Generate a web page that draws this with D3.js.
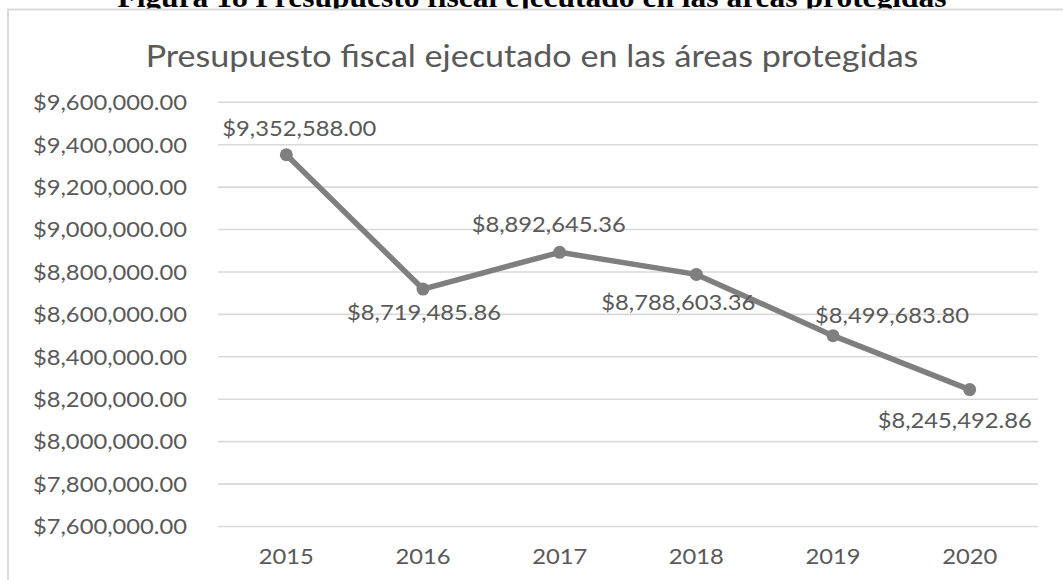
<!DOCTYPE html>
<html><head><meta charset="utf-8">
<script src="https://cdn.jsdelivr.net/npm/d3@7"></script>
<style>body{margin:0;background:#fff;overflow:hidden} svg{display:block}</style>
</head><body><svg id="c" width="1063" height="580"></svg>
<script>
const years = ["2015", "2016", "2017", "2018", "2019", "2020"];
const values = [9352588.00, 8719485.86, 8892645.36, 8788603.36, 8499683.80, 8245492.86];
const yTicks = [7600000, 7800000, 8000000, 8200000, 8400000, 8600000, 8800000, 9000000, 9200000, 9400000, 9600000];
const caption = "Figura 18 Presupuesto fiscal ejecutado en las áreas protegidas";
const title = "Presupuesto fiscal ejecutado en las áreas protegidas";

// layout (label placement relative to each point, as dragged in the original)
const labelOffsets = [[13, -19], [1, 31], [-11, -20], [-18, 36], [59, -13], [-15, 38]];

const svg = d3.select("#c");
const W = 1063, H = 580;
const plot = {left: 218, right: 1038, top: 102.3, bottom: 526.5};
const fmt = d3.format("$,.2f");
const textColor = "#595959";
const SX = 1.08;

const x = d3.scalePoint().domain(years).range([plot.left, plot.right]).padding(0.5);
const y = d3.scaleLinear().domain([d3.min(yTicks), d3.max(yTicks)]).range([plot.bottom, plot.top]);

function sText(g, str, px, py, anchor, sx) {
  return g.append("text").attr("text-anchor", anchor)
    .attr("transform", `translate(${px},${py}) scale(${sx},1)`).text(str);
}

// caption (cut off at top edge, as in the source page)
sText(svg, caption, 532, 6.5, "middle", 1.05)
  .attr("font-family", "Liberation Serif").attr("font-weight", "bold").attr("font-size", 30).attr("fill", "#000");

// chart frame
svg.append("rect").attr("x", 8).attr("y", 9.5).attr("width", W + 20).attr("height", H + 20)
  .attr("fill", "#fff").attr("stroke", "#d9d9d9").attr("stroke-width", 2);

sText(svg, title, 532, 67, "middle", 1.1)
  .attr("font-family", "Lato").attr("font-size", 31).attr("fill", textColor);

// gridlines
svg.append("g").selectAll("line").data(yTicks).join("line")
  .attr("x1", plot.left).attr("x2", plot.right)
  .attr("y1", d => y(d)).attr("y2", d => y(d))
  .attr("stroke", "#d9d9d9").attr("stroke-width", 1.6);

// y axis labels
const yl = svg.append("g").attr("font-family", "Lato").attr("font-size", 22).attr("fill", textColor);
yTicks.forEach(v => sText(yl, fmt(v), 187, y(v) + 7.8, "end", SX));

// x axis labels
const xl = svg.append("g").attr("font-family", "Lato").attr("font-size", 22).attr("fill", textColor);
years.forEach(yr => sText(xl, yr, x(yr), 564, "middle", SX));

// line
const line = d3.line().x((d, i) => x(years[i])).y(d => y(d));
svg.append("path").datum(values).attr("d", line).attr("fill", "none")
  .attr("stroke", "#7f7f7f").attr("stroke-width", 5.5).attr("stroke-linejoin", "round");
svg.append("g").selectAll("circle").data(values).join("circle")
  .attr("cx", (d, i) => x(years[i])).attr("cy", d => y(d)).attr("r", 6.5).attr("fill", "#7f7f7f");

// data labels
const dl = svg.append("g").attr("font-family", "Lato").attr("font-size", 22).attr("fill", textColor);
values.forEach((v, i) => sText(dl, fmt(v), x(years[i]) + labelOffsets[i][0], y(v) + labelOffsets[i][1], "middle", SX));
</script></body></html>
